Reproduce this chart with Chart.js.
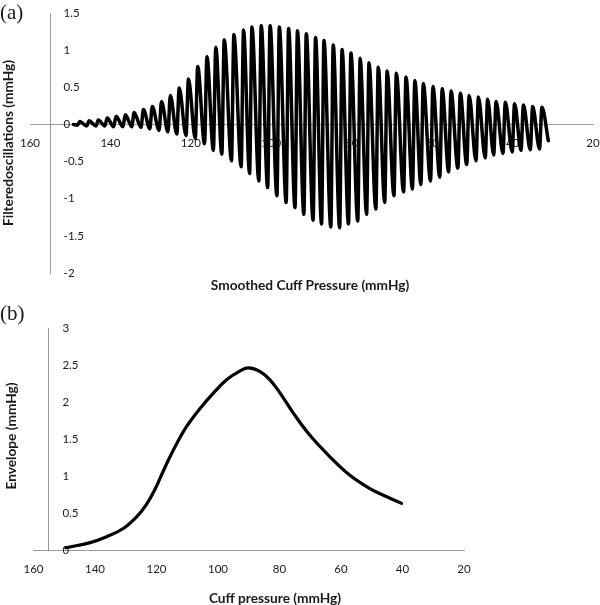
<!DOCTYPE html>
<html>

<head>
    <meta charset='UTF-8'>
    <title>Oscillations and envelope</title>
    <style>
        body {
            margin: 0;
            background: #fff;
        }

        #page {
            position: relative;
            width: 600px;
            height: 605px;
            font-family: Lato, sans-serif;
            color: #1a1a1a;
        }

        .box {
            position: absolute;
            left: 0;
            width: 600px;
        }

        .tag {
            position: absolute;
            font-family: "Liberation Serif", serif;
            font-size: 21px;
            line-height: 1;
        }

        .title {
            position: absolute;
            font-weight: bold;
            font-size: 13.7px;
            white-space: nowrap;
            transform: translate(-50%, -50%);
        }

        .title.vert {
            transform: translate(-50%, -50%) rotate(-90deg);
        }
    </style>
</head>

<body>
    <script src="https://cdn.jsdelivr.net/npm/chart.js@4/dist/chart.umd.min.js"></script>
    <div id="page">
        <div class="box" style="top:0;height:300px">
            <canvas id="chartA" width="600" height="300"></canvas>
        </div>
        <div class="box" style="top:300px;height:305px">
            <canvas id="chartB" width="600" height="305"></canvas>
        </div>
        <div class="tag" style="left:0;top:2px">(a)</div>
        <div class="tag" style="left:0;top:303px">(b)</div>
        <div class="title vert" style="left:7px;top:143px">Filteredoscillations (mmHg)</div>
        <div class="title" style="left:310px;top:284px">Smoothed Cuff Pressure (mmHg)</div>
        <div class="title vert" style="left:10px;top:436px">Envelope (mmHg)</div>
        <div class="title" style="left:275px;top:597px">Cuff pressure (mmHg)</div>
    </div>

    <script>
        // (a) filtered oscillations: one trough + one peak per beat
        let troughP = [148.2, 145.9, 143.6, 141.4, 139.2, 136.9, 134.7, 132.4, 130.2, 127.9, 125.7, 123.5, 121.2,
            118.9, 116.6, 114.4, 112.3, 109.9, 107.5, 105.4, 103.1, 100.9, 98.6, 96.3, 94.1, 91.9, 89.6, 87.5,
            85.2, 83.0, 80.8, 78.5, 76.3, 74.0, 71.8, 69.5, 67.1, 64.9, 62.8, 60.4, 58.1, 55.9, 53.6, 51.4, 49.1,
            46.8, 44.7, 42.4, 40.1, 37.9, 35.6, 33.3];
        let troughV = [-0.01, -0.02, -0.02, -0.02, -0.03, -0.03, -0.03, -0.04, -0.06, -0.08, -0.10, -0.13, -0.15,
            -0.19, -0.26, -0.35, -0.40, -0.49, -0.57, -0.66, -0.76, -0.85, -0.96, -1.05, -1.12, -1.21, -1.29,
            -1.34, -1.38, -1.39, -1.34, -1.30, -1.21, -1.14, -1.05, -0.96, -0.91, -0.87, -0.81, -0.76, -0.71,
            -0.64, -0.59, -0.54, -0.49, -0.45, -0.41, -0.39, -0.37, -0.35, -0.34, -0.33];
        let peakP = [147.6, 145.3, 143.0, 140.8, 138.6, 136.3, 134.1, 131.8, 129.6, 127.3, 125.1, 122.9, 120.6,
            118.3, 116.0, 113.8, 111.7, 109.3, 106.9, 104.8, 102.5, 100.3, 98.0, 95.7, 93.5, 91.3, 89.0, 86.9,
            84.6, 82.4, 80.2, 77.9, 75.7, 73.4, 71.2, 68.9, 66.5, 64.3, 62.2, 59.8, 57.5, 55.3, 53.0, 50.8, 48.5,
            46.2, 44.1, 41.8, 39.5, 37.3, 35.0, 32.7];
        let peakV = [0.04, 0.05, 0.06, 0.085, 0.11, 0.13, 0.16, 0.20, 0.24, 0.31, 0.39, 0.49, 0.61, 0.78, 0.91,
            1.04, 1.14, 1.21, 1.27, 1.31, 1.33, 1.33, 1.31, 1.29, 1.26, 1.22, 1.17, 1.13, 1.07, 1.01, 0.96, 0.89,
            0.83, 0.77, 0.72, 0.69, 0.64, 0.59, 0.55, 0.51, 0.48, 0.45, 0.42, 0.39, 0.37, 0.34, 0.31, 0.30, 0.28,
            0.26, 0.24, 0.23];
        let startPoint = [149.2, 0];
        let endPoint = [31.1, -0.22];

        // (b) envelope
        let envP = [149.5, 141.6, 136.2, 130.8, 126.4, 123.2, 120.5, 118.3, 116.2, 113.4, 110.2, 105.9, 101.5,
            97.2, 92.8, 90.1, 86.3, 83.1, 79.8, 75.5, 70.1, 63.6, 57.1, 50.6, 45.1, 40.3];
        let envV = [0.03, 0.10, 0.18, 0.29, 0.45, 0.62, 0.82, 1.02, 1.21, 1.44, 1.67, 1.91, 2.12, 2.30, 2.42,
            2.46, 2.41, 2.30, 2.12, 1.85, 1.55, 1.26, 1.01, 0.83, 0.72, 0.63];

        let xCross = 155; // where the value axis crosses the pressure axis
        let axisGrey = "#9a9a9a";
        let textColor = "#1a1a1a";

        function oscillationPoints() {
            let pts = [{ x: startPoint[0], y: startPoint[1] }];
            for (let i = 0; i < peakP.length; i++) {
                pts.push({ x: troughP[i], y: troughV[i] });
                pts.push({ x: peakP[i], y: peakV[i] });
            }
            pts.push({ x: endPoint[0], y: endPoint[1] });
            return pts;
        }

        function envelopePoints() {
            return envP.map(function(p, i) {
                return { x: p, y: envV[i] };
            });
        }

        // value labels sit to the right of the crossing axis, left aligned
        let yLabels = {
            id: "yLabels",
            beforeDatasetsDraw(chart) {
                let ctx = chart.ctx;
                let x = chart.scales.x.getPixelForValue(xCross) + 13.5;
                ctx.save();
                ctx.font = "11.5px Lato";
                ctx.fillStyle = textColor;
                ctx.textAlign = "left";
                ctx.textBaseline = "middle";
                chart.scales.y.ticks.forEach(function(t) {
                    ctx.fillText(String(t.value), x, chart.scales.y.getPixelForValue(t.value));
                });
                ctx.restore();
            }
        };

        function makeChart(id, dataset, yMin, yMax, padding) {
            return new Chart(document.getElementById(id), {
                type: "line",
                data: { datasets: [dataset] },
                options: {
                    responsive: false,
                    animation: false,
                    layout: { padding: padding },
                    plugins: { legend: { display: false }, tooltip: { enabled: false } },
                    scales: {
                        x: {
                            type: "linear",
                            min: 20,
                            max: 160,
                            reverse: true,
                            position: { y: 0 },
                            afterFit: function(s) {
                                // keep the plot edges where the layout padding puts them
                                s.height = 0;
                                s.paddingLeft = 0;
                                s.paddingRight = 0;
                            },
                            grid: { display: false, drawTicks: false },
                            border: { display: true, color: axisGrey, width: 1 },
                            ticks: {
                                stepSize: 20,
                                padding: 12,
                                maxRotation: 0,
                                autoSkip: false,
                                color: textColor,
                                font: { family: "Lato", size: 11.5 }
                            }
                        },
                        y: {
                            type: "linear",
                            min: yMin,
                            max: yMax,
                            position: { x: xCross },
                            afterFit: function(s) {
                                s.width = 0;
                                s.paddingTop = 0;
                                s.paddingBottom = 0;
                            },
                            grid: { display: false, drawTicks: false },
                            border: { display: true, color: axisGrey, width: 1 },
                            ticks: { stepSize: 0.5, display: false }
                        }
                    }
                },
                plugins: [yLabels]
            });
        }

        makeChart("chartA", {
            data: oscillationPoints(),
            borderColor: "#000",
            borderWidth: 3.5,
            borderCapStyle: "round",
            pointRadius: 0,
            fill: false,
            cubicInterpolationMode: "monotone"
        }, -2, 1.5, { top: 13, left: 30, right: 7, bottom: 27 });

        makeChart("chartB", {
            data: envelopePoints(),
            borderColor: "#000",
            borderWidth: 3.2,
            borderCapStyle: "round",
            pointRadius: 0,
            fill: false,
            tension: 0.4
        }, 0, 3, { top: 28, left: 33.5, right: 136, bottom: 55 });
    </script>

</body>

</html>
